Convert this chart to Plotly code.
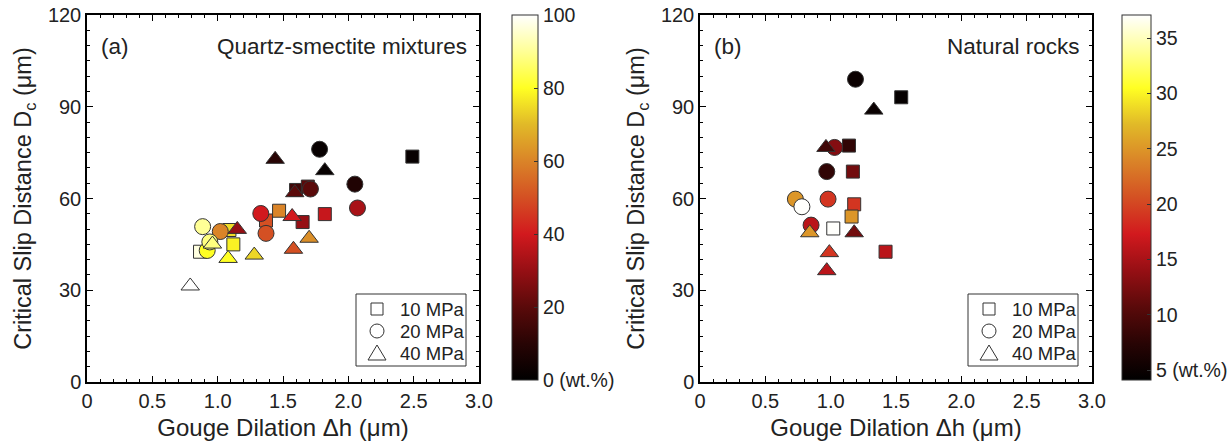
import plotly.graph_objects as go

# ---------------- Data ----------------
# Panel (a): quartz-smectite mixtures (x = gouge dilation, y = Dc, c = smectite wt.%)
a_sq_x = [2.49, 1.60, 1.69, 1.47, 1.82, 1.65, 1.37, 1.09, 1.12, 0.865]
a_sq_y = [73.7, 62.8, 63.9, 56.0, 54.9, 52.3, 52.8, 49.7, 45.0, 42.6]
a_sq_c = [2, 15, 20, 60, 38, 30, 50, 75, 78, 97]

a_ci_x = [1.78, 2.05, 1.71, 2.07, 1.33, 1.37, 0.885, 1.02, 0.92, 0.94]
a_ci_y = [76.1, 64.7, 63.1, 56.9, 55.1, 48.6, 50.8, 49.2, 43.0, 45.8]
a_ci_c = [2, 8, 20, 33, 40, 50, 90, 60, 80, 88]

a_tr_x = [1.44, 1.82, 1.59, 1.57, 1.70, 1.58, 1.15, 0.96, 1.08, 1.28, 0.79]
a_tr_y = [72.8, 69.1, 61.9, 54.1, 47.0, 43.4, 49.9, 45.1, 40.4, 41.5, 31.4]
a_tr_c = [10, 2, 20, 40, 62, 50, 30, 88, 80, 74, 100]

# Panel (b): natural rocks (c = clay wt.%)
b_sq_x = [1.54, 1.14, 1.17, 1.18, 1.16, 1.02, 1.42]
b_sq_y = [93.1, 77.3, 68.8, 58.1, 54.1, 50.2, 42.6]
b_sq_c = [4.5, 8, 12, 19, 25, 37, 16]

b_ci_x = [1.19, 1.03, 0.97, 0.73, 0.78, 0.98, 0.85]
b_ci_y = [99.0, 76.7, 68.8, 59.8, 57.3, 59.8, 51.3]
b_ci_c = [5, 13, 8, 25, 37, 19, 16]

b_tr_x = [1.33, 0.964, 0.84, 1.18, 0.99, 0.97]
b_tr_y = [88.9, 76.7, 48.8, 48.8, 42.3, 36.4]
b_tr_c = [5, 9, 25, 12, 19, 16]

cb_a_ticks = [0, 20, 40, 60, 80, 100]
cb_a_text = ["0 (wt.%)", "20", "40", "60", "80", "100"]
cb_b_ticks = [5, 10, 15, 20, 25, 30, 35]
cb_b_text = ["5 (wt.%)", "10", "15", "20", "25", "30", "35"]

pressure_labels = ["10 MPa", "20 MPa", "40 MPa"]

# ---------------- Style ----------------
cscale = [
    [0.00, "rgb(0,0,0)"],
    [0.10, "rgb(40,4,4)"],
    [0.20, "rgb(90,10,10)"],
    [0.30, "rgb(150,15,20)"],
    [0.40, "rgb(210,25,30)"],
    [0.50, "rgb(212,80,35)"],
    [0.60, "rgb(218,132,40)"],
    [0.70, "rgb(225,185,40)"],
    [0.80, "rgb(255,255,35)"],
    [0.90, "rgb(255,255,150)"],
    [1.00, "rgb(255,255,255)"],
]
FONT = "Liberation Sans, Arial, Helvetica, sans-serif"
W, H = 1231, 442
# plot area in pixels
L, R, T, B = 87, 1092, 15, 382
PW, PH = R - L, B - T
edge = dict(color="#333333", width=1)

fig = go.Figure()

def add_panel(xs, ys, cs, sym, size, xa, ya, cax):
    fig.add_trace(go.Scatter(
        x=xs, y=ys, mode="markers", xaxis=xa, yaxis=ya, showlegend=False,
        marker=dict(symbol=sym, size=size, color=cs, coloraxis=cax, line=edge),
        hoverinfo="skip"))

for (sx, sy, sc, cx, cy, cc, tx, ty, tc, xa, ya, cax) in [
    (a_sq_x, a_sq_y, a_sq_c, a_ci_x, a_ci_y, a_ci_c, a_tr_x, a_tr_y, a_tr_c, "x", "y", "coloraxis"),
    (b_sq_x, b_sq_y, b_sq_c, b_ci_x, b_ci_y, b_ci_c, b_tr_x, b_tr_y, b_tr_c, "x2", "y2", "coloraxis2"),
]:
    add_panel(sx, sy, sc, "square", 13, xa, ya, cax)
    add_panel(cx, cy, cc, "circle", 16, xa, ya, cax)
    add_panel(tx, ty, tc, "triangle-up", 16, xa, ya, cax)

def fx(p):
    return (p - L) / PW

def fy(p):
    return (B - p) / PH

axis_common = dict(
    showline=True, linecolor="black", linewidth=1.5, mirror="allticks",
    ticks="inside", ticklen=6, tickcolor="black", tickwidth=1.2,
    showgrid=False, zeroline=False, automargin=False,
    tickfont=dict(family=FONT, size=20, color="#222"),
)
xax = dict(axis_common, range=[0, 3.0], tickvals=[0, 0.5, 1.0, 1.5, 2.0, 2.5, 3.0],
           ticktext=["0", "0.5", "1.0", "1.5", "2.0", "2.5", "3.0"],
           minor=dict(dtick=0.1, ticks="inside", ticklen=3, tickcolor="black"),
           title=dict(text="Gouge Dilation Δh (μm)", font=dict(family=FONT, size=24, color="#222"), standoff=8))
yax = dict(axis_common, range=[0, 120], tickvals=[0, 30, 60, 90, 120],
           minor=dict(dtick=5, ticks="inside", ticklen=3, tickcolor="black"),
           title=dict(text="Critical Slip Distance D<sub>c</sub> (μm)", font=dict(family=FONT, size=23.5, color="#222"), standoff=10))

cb_common = dict(xanchor="left", yanchor="top", y=fy(15), len=365 / PH, lenmode="fraction",
                 thicknessmode="pixels", outlinecolor="#333", outlinewidth=1,
                 ticks="inside", ticklen=4, tickcolor="#333",
                 tickfont=dict(family=FONT, size=19.5, color="#222"), xpad=0, ypad=0)

fig.update_layout(
    width=W, height=H, margin=dict(l=L, r=W - R, t=T, b=H - B, autoexpand=False),
    plot_bgcolor="white", paper_bgcolor="white", showlegend=False,
    font=dict(family=FONT, color="#222"),
    xaxis=dict(xax, domain=[0, fx(479)], anchor="y"),
    yaxis=dict(yax, domain=[0, 1], anchor="x"),
    xaxis2=dict(xax, domain=[fx(700), 1], anchor="y2"),
    yaxis2=dict(yax, domain=[0, 1], anchor="x2"),
    coloraxis=dict(colorscale=cscale, cmin=0, cmax=100,
                   colorbar=dict(cb_common, x=fx(512), thickness=26,
                                 tickvals=cb_a_ticks, ticktext=cb_a_text)),
    coloraxis2=dict(colorscale=cscale, cmin=4.1, cmax=37.1,
                    colorbar=dict(cb_common, x=fx(1122), thickness=29,
                                  tickvals=cb_b_ticks, ticktext=cb_b_text)),
)

# panel labels
ann_font = dict(family=FONT, size=22.5, color="#222")
for xr, yr, lab, txt in [("x domain", "y domain", "(a)", "Quartz-smectite mixtures"),
                         ("x2 domain", "y2 domain", "(b)", "Natural rocks")]:
    fig.add_annotation(text=lab, x=0.03, y=0.955, xref=xr, yref=yr,
                       xanchor="left", yanchor="top", showarrow=False, font=ann_font)
    fig.add_annotation(text=txt, x=0.975, y=0.955, xref=xr, yref=yr,
                       xanchor="right", yanchor="top", showarrow=False, font=ann_font)

# hand-built legends (box, symbols and labels) in pixel positions
leg_font = dict(family=FONT, size=18.5, color="#222")
for bx in (356, 968):
    top, bot = 294, 366
    fig.add_shape(type="rect", xref="paper", yref="paper",
                  x0=fx(bx), x1=fx(bx + 110), y0=fy(bot), y1=fy(top),
                  line=dict(color="#333", width=1), fillcolor="white", layer="above")
    rows = [309, 331, 353]
    sx = bx + 21
    # square
    cy = rows[0]
    fig.add_shape(type="rect", xref="paper", yref="paper",
                  x0=fx(sx - 6), x1=fx(sx + 6), y0=fy(cy + 6), y1=fy(cy - 6),
                  line=dict(color="#333", width=1), layer="above")
    # circle
    cy = rows[1]
    fig.add_shape(type="circle", xref="paper", yref="paper",
                  x0=fx(sx - 7), x1=fx(sx + 7), y0=fy(cy + 7), y1=fy(cy - 7),
                  line=dict(color="#333", width=1), layer="above")
    # triangle
    cy = rows[2]
    p = [(sx - 9, cy + 7), (sx + 9, cy + 7), (sx, cy - 8)]
    path = "M {} {} L {} {} L {} {} Z".format(fx(p[0][0]), fy(p[0][1]), fx(p[1][0]), fy(p[1][1]),
                                             fx(p[2][0]), fy(p[2][1]))
    fig.add_shape(type="path", xref="paper", yref="paper", path=path,
                  line=dict(color="#333", width=1), layer="above")
    for lab, cy in zip(pressure_labels, rows):
        fig.add_annotation(text=lab, x=fx(bx + 42), y=fy(cy), xref="paper", yref="paper",
                           xanchor="left", yanchor="middle", showarrow=False, font=leg_font)

fig.write_html("out.html")
